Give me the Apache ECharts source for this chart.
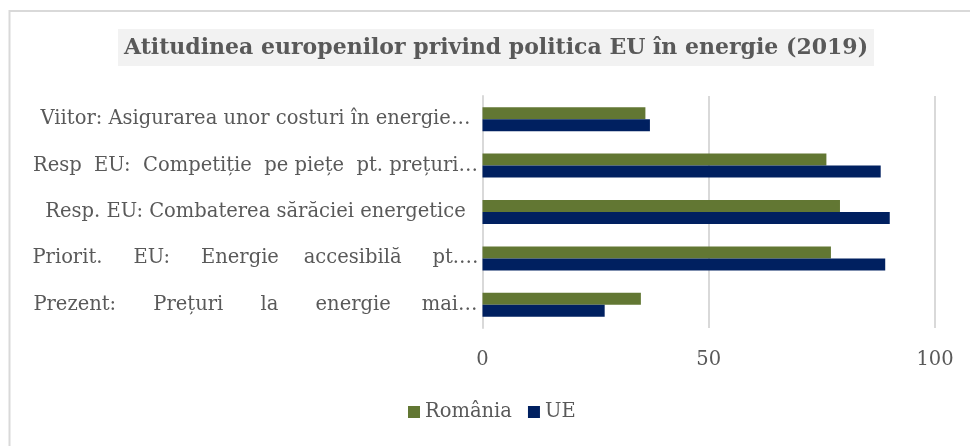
<!DOCTYPE html>
<html>
<head>
<meta charset="utf-8">
<script src="https://cdn.jsdelivr.net/npm/echarts@6/dist/echarts.min.js"></script>
<style>
  html, body { margin: 0; padding: 0; background: #fff; }
  #chart { width: 970px; height: 446px; }
</style>
</head>
<body>
<div id="chart"></div>
<script>
// categories bottom -> top, as they appear in the chart
const categories = [
  'Prezent: Prețuri la energie mai…',
  'Priorit. EU: Energie accesibilă pt.…',
  'Resp. EU: Combaterea sărăciei energetice',
  'Resp EU: Competiție pe piețe pt. prețuri…',
  'Viitor: Asigurarea unor costuri în energie…',
];
// which labels are stretched to the full label width (justified in the original)
const justified = [true, true, false, true, false];
const romania = [35, 77, 79, 76, 36];
const ue = [27, 89, 90, 88, 37];
const xTicks = { min: 0, max: 100, interval: 50 };

const labelFont = 'DejaVu Serif';
const labelSize = 19.5;
const labelWidth = 446; // px, from left edge of labels to the axis

// spread words out so a label fills labelWidth, like the justified text in the source
const ctx = document.createElement('canvas').getContext('2d');
ctx.font = labelSize + 'px "' + labelFont + '"';
function justify(text) {
  const words = text.split(' ');
  if (words.length < 2) return text;
  const wordsW = words.reduce((s, w) => s + ctx.measureText(w).width, 0);
  const spaceW = ctx.measureText(' ').width;
  const gaps = words.length - 1;
  let left = (labelWidth - wordsW) / spaceW; // total spaces to spread
  let out = words[0];
  for (let i = 1; i < words.length; i++) {
    const n = Math.max(1, Math.round(left / (gaps - i + 1)));
    left -= n;
    out += ' '.repeat(n) + words[i];
  }
  return out;
}

const chart = echarts.init(document.getElementById('chart'));
const option = {
  animation: false,
  backgroundColor: '#fff',
  graphic: [{
    type: 'rect',
    shape: { x: 9.5, y: 11, width: 980, height: 460 },
    style: { fill: 'none', stroke: '#d9d9d9', lineWidth: 2 },
    silent: true,
  }],
  title: {
    text: 'Atitudinea europenilor privind politica EU în energie (2019)',
    left: 118,
    top: 29,
    backgroundColor: '#f2f2f2',
    padding: [8, 6, 7, 6],
    textStyle: {
      fontFamily: labelFont,
      fontWeight: 'bold',
      fontSize: 22,
      color: '#595959',
    },
  },
  legend: {
    data: ['România', 'UE'],
    left: 403,
    top: 397,
    itemWidth: 12,
    itemHeight: 12,
    itemGap: 16,
    icon: 'rect',
    textStyle: { fontFamily: labelFont, fontSize: labelSize, color: '#595959' },
  },
  grid: {
    left: 482.5,
    right: 35,
    top: 96,
    bottom: 118,
    containLabel: false,
  },
  xAxis: {
    type: 'value',
    min: xTicks.min,
    max: xTicks.max,
    interval: xTicks.interval,
    axisLine: { show: false },
    axisTick: { show: false },
    splitLine: { lineStyle: { color: '#d9d9d9', width: 2 } },
    axisLabel: {
      margin: 22,
      fontFamily: labelFont,
      fontSize: labelSize,
      color: '#595959',
    },
  },
  yAxis: {
    type: 'category',
    data: categories,
    axisLine: { show: true, lineStyle: { color: '#d9d9d9', width: 2 } },
    axisTick: { show: false },
    axisLabel: {
      margin: 227,
      align: 'center',
      fontFamily: labelFont,
      fontSize: labelSize,
      color: '#595959',
      formatter: (v, i) => (justified[i] ? justify(v) : v),
    },
  },
  series: [
    {
      name: 'România',
      type: 'bar',
      data: romania,
      barWidth: 12,
      barGap: '0%',
      itemStyle: { color: '#627733' },
    },
    {
      name: 'UE',
      type: 'bar',
      data: ue,
      barWidth: 12,
      barGap: '0%',
      itemStyle: { color: '#002060' },
    },
  ],
};
chart.setOption(option);
</script>
</body>
</html>
